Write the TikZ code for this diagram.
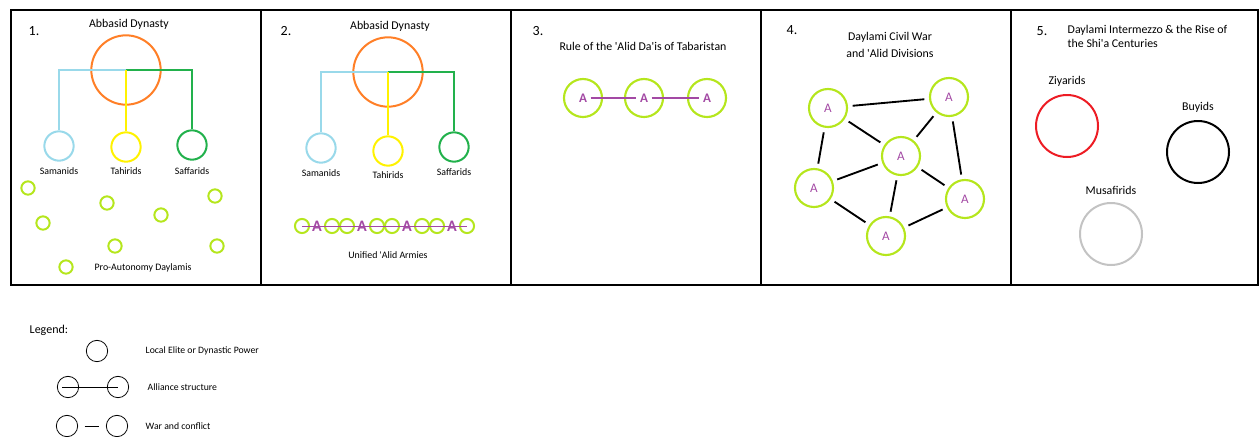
\documentclass[tikz,border=0pt]{standalone}
\usepackage{fontspec}
\setmainfont{Carlito}
\usetikzlibrary{positioning}

\definecolor{abbOrange}{RGB}{255,127,39}
\definecolor{samBlue}{RGB}{153,217,234}
\definecolor{tahYellow}{RGB}{255,242,0}
\definecolor{safGreen}{RGB}{34,177,76}
\definecolor{dayLime}{RGB}{181,230,29}
\definecolor{alidPurple}{RGB}{163,73,164}
\definecolor{ziyRed}{RGB}{237,28,36}
\definecolor{musGrey}{RGB}{195,195,195}

\tikzset{
	frame/.style={line width=1.5pt},
	num/.style={anchor=west, font=\fontsize{10.5}{12}\selectfont},
	title/.style={font=\fontsize{8.9}{11}\selectfont},
	lbl/.style={inner sep=0pt, font=\fontsize{7.4}{9}\selectfont},
	dynasty/.style={circle, draw, line width=1.5pt, inner sep=0pt, minimum size=22pt},
	abbasid/.style={dynasty, draw=abbOrange, minimum size=52pt},
	tree/.style={line width=1.8pt},
	daylami/.style={circle, draw=dayLime, line width=1.5pt, inner sep=0pt, minimum size=10pt},
	ring/.style={circle, draw=dayLime, line width=1.6pt, inner sep=0pt, minimum size=28.5pt,
		text=alidPurple, font=\fontsize{9.8}{11}\selectfont},
	alidA/.style={inner sep=2.5pt, text=alidPurple, font=\bfseries\fontsize{9.8}{11}\selectfont},
	pact/.style={alidPurple, line width=1.6pt},
	war/.style={line width=1.4pt, shorten >=3.5pt, shorten <=3.5pt},
	power/.style={circle, draw, line width=1.5pt, inner sep=0pt, minimum size=46.5pt},
	legring/.style={circle, draw, line width=0.6pt, inner sep=0pt, minimum size=16pt},
	legtxt/.style={anchor=west, font=\fontsize{7.3}{9}\selectfont}
}

\begin{document}
\begin{tikzpicture}[x=0.75pt, y=-0.75pt]
	\useasboundingbox (0,0) rectangle (1259,436);

	% panels
	\draw [frame] (11,10) rectangle (1258,285);
	\foreach \x in {261,511,761,1011}
		\draw [frame] (\x,10) -- (\x,285);

	% 1. Abbasid Dynasty with its governors
	\node [num] at (24,31) {1.};
	\node [title] at (129,24) {Abbasid Dynasty};
	\node [abbasid] (abb1) at (126,70) {};
	\node [dynasty, draw=samBlue] (sam1) at (59,146) {};
	\node [dynasty, draw=tahYellow] (tah1) at (126,147) {};
	\node [dynasty, draw=safGreen] (saf1) at (192,145) {};
	\draw [tree, samBlue] (abb1.center) -| (sam1);
	\draw [tree, safGreen] (abb1.center) -| (saf1);
	\draw [tree, tahYellow] (abb1.center) -- (tah1);
	\node [lbl, below=4pt of sam1] {Samanids};
	\node [lbl, below=3.5pt of tah1] {Tahirids};
	\node [lbl, below=5pt of saf1] {Saffarids};
	\foreach \x/\y [count=\i] in {28/188, 43/223, 107/203, 161/215, 215/196, 115/246, 217/246, 66/267}
		\node [daylami] (day\i) at (\x,\y) {};
	\node [lbl] at (143,268) {Pro-Autonomy Daylamis};

	% 2. the same, with the 'Alid armies united
	\node [num] at (276,31) {2.};
	\node [title] at (390,26) {Abbasid Dynasty};
	\node [abbasid] (abb2) at (388,72) {};
	\node [dynasty, draw=samBlue] (sam2) at (321,148) {};
	\node [dynasty, draw=tahYellow] (tah2) at (388,151) {};
	\node [dynasty, draw=safGreen] (saf2) at (454,147) {};
	\draw [tree, samBlue] (abb2.center) -| (sam2);
	\draw [tree, safGreen] (abb2.center) -| (saf2);
	\draw [tree, tahYellow] (abb2.center) -- (tah2);
	\node [lbl, below=4pt of sam2] {Samanids};
	\node [lbl, below=3.5pt of tah2] {Tahirids};
	\node [lbl, below=4pt of saf2] {Saffarids};
	\foreach \i in {0,2,3,5,6,8,9,11}
		\node [daylami, minimum size=10.6pt] (army\i) at (302+15*\i,226) {};
	\foreach \i in {1,4,7,10}
		\node [alidA, font=\bfseries\fontsize{12}{12}\selectfont] (army\i) at (302+15*\i,226) {A};
	\draw [alidPurple, line width=0.7pt] (army0.center) -- (army11.center);
	\node [lbl] at (388,255) {Unified {\textquotesingle}Alid Armies};

	% 3. Alid rule in Tabaristan
	\node [num] at (528,31) {3.};
	\node [title] at (643,46) {Rule of the {\textquotesingle}Alid Da{\textquotesingle}is of Tabaristan};
	\foreach \x [count=\i] in {583,644,707} {
		\node [ring] (ring\i) at (\x,98) {};
		\node [alidA] (dai\i) at (ring\i) {A};
	}
	\draw [pact] (dai1) -- (dai2);
	\draw [pact] (dai2) -- (dai3);

	% 4. civil war between the Daylami factions
	\node [num] at (782,30) {4.};
	\node [title, align=center] at (890,45) {Daylami Civil War\\[1.5pt]and {\textquotesingle}Alid Divisions};
	\node [ring] (fac1) at (828,108) {A};
	\node [ring] (fac2) at (949,97) {A};
	\node [ring] (fac3) at (901,156) {A};
	\node [ring] (fac4) at (814,188) {A};
	\node [ring] (fac5) at (965,199) {A};
	\node [ring] (fac6) at (886,236) {A};
	\foreach \a/\b in {1/2, 1/3, 2/3, 2/5, 1/4, 4/3, 3/5, 3/6, 4/6, 6/5}
		\draw [war] (fac\a) -- (fac\b);

	% 5. the successor dynasties
	\node [num] at (1032,31) {5.};
	\node [title, align=left, anchor=west] at (1063,36.5) {Daylami Intermezzo \& the Rise of\\the Shi{\textquotesingle}a Centuries};
	\node [power, draw=ziyRed] (ziy) at (1067,126) {};
	\node [power, draw=black] (buy) at (1198,152) {};
	\node [power, draw=musGrey] (mus) at (1111,234) {};
	\node [title, above=2pt of ziy] {Ziyarids};
	\node [title, above=2pt of buy] {Buyids};
	\node [title, above=2pt of mus] {Musafirids};

	% legend
	\node [anchor=west, font=\fontsize{9}{11}\selectfont] at (25,330) {Legend:};
	\node [legring] (lgPower) at (97,351) {};
	\node [legtxt] at (141,351) {Local Elite or Dynastic Power};
	\node [legring] (lgAl1) at (68,387) {};
	\node [legring] (lgAl2) at (118,387) {};
	\draw [line width=0.6pt] ([xshift=-4.5pt]lgAl1.center) -- (lgAl2.center);
	\node [legtxt] at (143,387) {Alliance structure};
	\node [legring] (lgWar1) at (67,426) {};
	\node [legring] (lgWar2) at (117,426) {};
	\draw [line width=0.6pt, shorten >=5pt, shorten <=5pt] (lgWar1) -- (lgWar2);
	\node [legtxt] at (141,426) {War and conflict};
\end{tikzpicture}
\end{document}
